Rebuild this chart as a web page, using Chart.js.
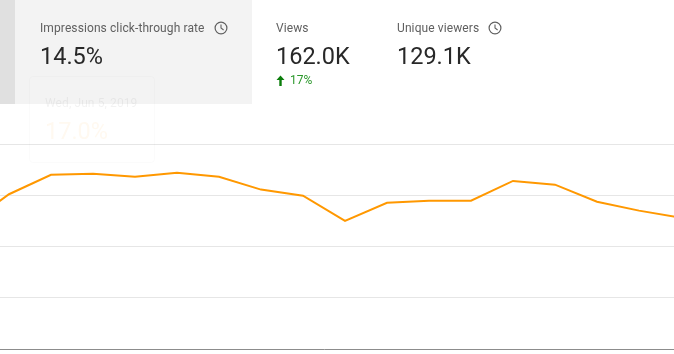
<!DOCTYPE html>
<html>
<head>
<meta charset="utf-8">
<script src="https://cdn.jsdelivr.net/npm/chart.js@4"></script>
<style>
html, body { margin: 0; padding: 0; background: #fff; }
#page { position: relative; width: 674px; height: 354px; overflow: hidden; font-family: Roboto, sans-serif; }
#chartWrap { position: absolute; left: -33px; top: 0; width: 714px; height: 354px; }
.strip { position: absolute; left: 0; top: 0; width: 15px; height: 104px; background: #e0e0e0; }
.active { position: absolute; left: 15px; top: 0; width: 237px; height: 104px; background: #f3f3f3; }
.card { position: absolute; top: 20px; white-space: nowrap; }
.title { font-size: 12px; line-height: 16px; color: #606060; letter-spacing: 0.1px; }
.title svg { vertical-align: -3px; margin-left: 9px; }
.value { font-size: 23.5px; line-height: 32px; color: #282828; margin-top: 4px; }
.delta { font-size: 12px; line-height: 14px; color: #2b982b; margin-top: 1px; }
.delta svg { vertical-align: -2px; margin-right: 5px; }
#ghost { position: absolute; left: 29px; top: 76px; width: 126px; height: 87px; box-sizing: border-box; border: 1px solid #000; border-radius: 4px; opacity: 0.015; }
#ghostDate { position: absolute; left: 45px; top: 95px; font-size: 12px; line-height: 16px; color: #000; opacity: 0.05; white-space: nowrap; letter-spacing: 0.1px; }
#ghostVal { position: absolute; left: 45px; top: 115px; font-size: 23.5px; line-height: 32px; color: #ff9800; opacity: 0.06; }
</style>
</head>
<body>
<div id="page">
  <div class="strip"></div>
  <div class="active"></div>
  <div id="chartWrap"><canvas id="ctrChart"></canvas></div>
  <div class="card" style="left:40px">
    <div class="title">Impressions click-through rate<svg width="14" height="14" viewBox="0 0 14 14"><circle cx="7" cy="7" r="5.9" fill="none" stroke="#606060" stroke-width="1.2"/><path d="M7 3.6V7l2.6 2" fill="none" stroke="#606060" stroke-width="1.1"/></svg></div>
    <div class="value">14.5%</div>
  </div>
  <div class="card" style="left:276px">
    <div class="title">Views</div>
    <div class="value">162.0K</div>
    <div class="delta"><svg width="9" height="11" viewBox="0 0 9 11"><path d="M4.5 0.5L8.5 5H5.7V11H3.3V5H0.5Z" fill="#0b7d0b"/></svg>17%</div>
  </div>
  <div class="card" style="left:397px">
    <div class="title">Unique viewers<svg width="14" height="14" viewBox="0 0 14 14"><circle cx="7" cy="7" r="5.9" fill="none" stroke="#606060" stroke-width="1.2"/><path d="M7 3.6V7l2.6 2" fill="none" stroke="#606060" stroke-width="1.1"/></svg></div>
    <div class="value">129.1K</div>
  </div>
  <div id="ghost"></div>
  <div id="ghostDate">Wed, Jun 5, 2019</div>
  <div id="ghostVal">17.0%</div>
</div>
<script>
// Data
const days = ['Jun 3', 'Jun 4', 'Jun 5', 'Jun 6', 'Jun 7', 'Jun 8', 'Jun 9', 'Jun 10', 'Jun 11',
    'Jun 12', 'Jun 13', 'Jun 14', 'Jun 15', 'Jun 16', 'Jun 17', 'Jun 18', 'Jun 19', 'Jun 20'];
const ctrValues = [12.1, 15.1, 17.0, 17.1, 16.8, 17.2, 16.8, 15.55, 14.95, 12.5, 14.27, 14.47, 14.47, 16.4, 16.03, 14.37, 13.5, 12.8];
const yTicks = [0, 5, 10, 15, 20];

new Chart(document.getElementById('ctrChart'), {
    type: 'line',
    data: {
        labels: days,
        datasets: [{
            label: 'Impressions click-through rate',
            data: ctrValues,
            borderColor: '#ff9800',
            borderWidth: 2,
            pointRadius: 0,
            tension: 0,
            fill: false
        }]
    },
    options: {
        responsive: true,
        maintainAspectRatio: false,
        animation: false,
        layout: { padding: { top: 144, bottom: 5, left: 0, right: 0 } },
        plugins: { legend: { display: false }, tooltip: { enabled: false } },
        scales: {
            x: {
                offset: false,
                grid: { display: false },
                border: { display: true, color: '#8c8c8c', width: 1 },
                ticks: { display: false },
                afterFit: axis => { axis.height = 0; }
            },
            y: {
                min: yTicks[0],
                max: yTicks[yTicks.length - 1],
                afterBuildTicks: axis => { axis.ticks = yTicks.map(v => ({ value: v })); },
                grid: { color: '#e6e6e6', drawTicks: false },
                border: { display: false },
                ticks: { display: false }
            }
        }
    }
});
</script>
</body>
</html>
